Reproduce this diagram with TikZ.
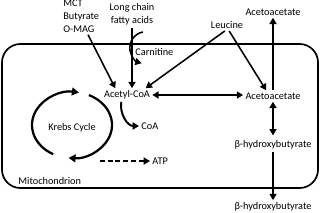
\documentclass[tikz,border=0pt]{standalone}
\usepackage{fontspec}
\setmainfont{Carlito}
\usetikzlibrary{arrows.meta}

\begin{document}
\begin{tikzpicture}[
    x=0.025cm, y=0.025cm,
    lbl/.style={inner sep=1.5pt, font=\fontsize{7.3}{9.2}\selectfont},
    arr/.style={-{Triangle[length=4.5pt,width=5pt]}, line width=1.1pt},
    dbl/.style={{Triangle[length=4.5pt,width=5pt]}-{Triangle[length=4.5pt,width=5pt]}, line width=1.1pt},
    cyc/.style={-{Triangle[length=5pt,width=5.5pt]}, line width=1.6pt},
    box/.style={line width=1.2pt, rounded corners=0.46cm}
]
\useasboundingbox (0,0) rectangle (320,212);

% --- Mitochondrion ---
\draw[box] (2,24) rectangle (318,168);
\node[lbl, anchor=west] (mito) at (16,31) {Mitochondrion};

% --- Substrates ---
\node[lbl, anchor=west, align=left] (src) at (61,196) {MCT\\Butyrate\\O-MAG};
\node[lbl, align=center] (fatty) at (132,197.5) {Long chain\\fatty acids};
\node[lbl, anchor=west] (carn) at (133,160) {Carnitine};
\node[lbl] (leu) at (227,187) {Leucine};

% --- Inside ---
\node[lbl] (acetyl) at (127,117) {Acetyl-CoA};
\node[lbl] (aceMid) at (273,116) {Acetoacetate};
\node[lbl] (bhbIn) at (273,67) {β-hydroxybutyrate};
\node[lbl] (krebs) at (72,84) {Krebs Cycle};
\node[lbl, anchor=west] (coa) at (139,86) {CoA};
\node[lbl, anchor=west] (atp) at (150,51) {ATP};
\coordinate (kc) at (72,87);
\coordinate (atpFrom) at (100,51);
\coordinate (carnIn) at (143,180);

% --- Outside ---
\node[lbl] (aceTop) at (273,200) {Acetoacetate};
\node[lbl] (bhbOut) at (273,5) {β-hydroxybutyrate};

\draw[arr] (src.-70) -- (acetyl.150);
\draw[arr] (fatty.south) -- (fatty.south |- acetyl.north);
\draw[arr] (carnIn) arc[start angle=100, end angle=255, radius=16];
\draw[arr] (leu.-110) -- (acetyl.20);
\draw[arr] (leu.-70) -- (aceMid.140);
\draw[dbl] (acetyl.east) -- (acetyl.east -| aceMid.west);
\draw[arr] (aceMid.north) -- (aceTop.south);
\draw[dbl, shorten >=2pt] (aceMid.south) -- (bhbIn.north);
\draw[arr] (bhbIn.south) -- (bhbOut.north);

% --- Krebs cycle ---
\draw[cyc] (kc) ++(242:40 and 33) arc[start angle=242, end angle=80, x radius=40, y radius=33];
\draw[cyc] (kc) ++(65:40 and 33) arc[start angle=65, end angle=-95, x radius=40, y radius=33];
\draw[arr, line width=1.4pt] (acetyl.-130) to[out=-100, in=180] (coa.west);
\draw[arr, dash pattern=on 3.5pt off 2pt] (atpFrom) -- (atp.west);
\end{tikzpicture}
\end{document}
